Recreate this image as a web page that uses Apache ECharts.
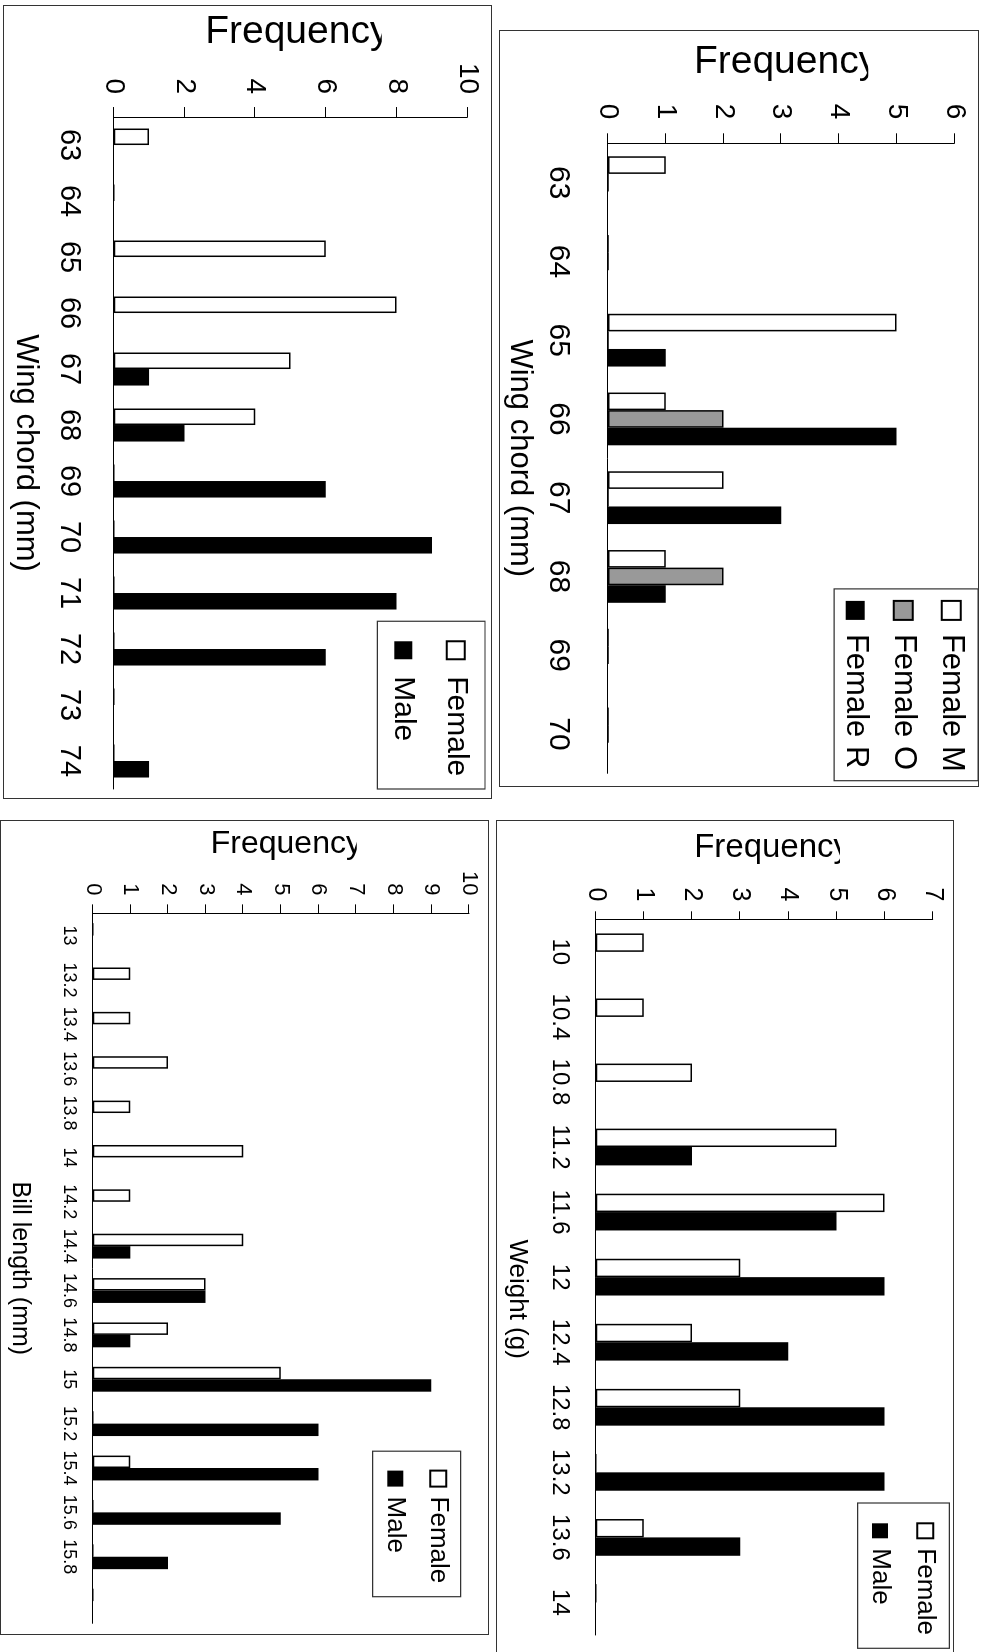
<!DOCTYPE html>
<html><head><meta charset="utf-8">
<script src="https://cdn.jsdelivr.net/npm/echarts@6/dist/echarts.min.js"></script>
<style>
html,body{margin:0;padding:0;background:#fff;width:983px;height:1652px;overflow:hidden;position:relative;}
.panel{position:absolute;overflow:hidden;}
.frame{position:absolute;box-sizing:border-box;border:1.6px solid #333;pointer-events:none;}
.chart{position:absolute;left:0;top:0;transform-origin:0 0;}
</style></head><body>
<script>
// ---------- data ----------
const wingCats   = ['63','64','65','66','67','68','69','70','71','72','73','74'];
const wingFemale = [1,0,6,8,5,4,0,0,0,0,0,0];
const wingMale   = [0,0,0,0,1,2,6,9,8,6,0,1];

const morphCats  = ['63','64','65','66','67','68','69','70'];
const femaleM    = [1,0,5,1,2,1,0,0];
const femaleO    = [0,0,0,2,0,2,0,0];
const femaleR    = [0,0,1,5,3,1,0,0];

const weightCats   = ['10','10.4','10.8','11.2','11.6','12','12.4','12.8','13.2','13.6','14'];
const weightFemale = [1,1,2,5,6,3,2,3,0,1,0];
const weightMale   = [0,0,0,2,5,6,4,6,6,3,0];

const billCats   = ['13','13.2','13.4','13.6','13.8','14','14.2','14.4','14.6','14.8','15','15.2','15.4','15.6','15.8',''];
const billFemale = [0,1,1,2,1,4,1,4,3,2,5,0,1,0,0,0];
const billMale   = [0,0,0,0,0,0,0,1,3,1,9,6,6,5,2,0];

const wingAxis   = {max:10, step:2};
const morphAxis  = {max:6,  step:1};
const weightAxis = {max:7,  step:1};
const billAxis   = {max:10, step:1};

const FONT = "'Liberation Sans', Arial, sans-serif";

function panel(box, build){
  const p = document.createElement('div'); p.className='panel';
  Object.assign(p.style,{left:box.x+'px',top:box.y+'px',width:box.w+'px',height:box.h+'px'});
  document.body.appendChild(p);
  const c = document.createElement('div'); c.className='chart';
  Object.assign(c.style,{width:box.h+'px',height:box.w+'px',transform:'translateX('+box.w+'px) rotate(90deg)'});
  p.appendChild(c);
  const f = document.createElement('div'); f.className='frame';
  Object.assign(f.style,{left:box.x+'px',top:box.y+'px',width:box.w+'px',height:box.h+'px'});
  document.body.appendChild(f);
  const chart = echarts.init(c, null, {renderer:'canvas', width:box.h, height:box.w});
  chart.setOption(build());
}

function buildOption(o){
  const axisCol = '#000';
  return {
    animation:false,
    textStyle:{fontFamily:FONT},
    grid:o.grid,
    legend:{
      orient:'vertical', right:o.lg.right, top:o.lg.top, padding:o.lg.pad,
      itemWidth:o.lg.iw, itemHeight:o.lg.ih, itemGap:o.lg.gap, icon:'rect',
      borderColor:'#333', borderWidth:1.2, backgroundColor:'#fff',
      textStyle:{fontSize:o.lg.fs, color:'#000', fontFamily:FONT, padding:[0,0,0,o.lg.tp]},
      data:o.series.map(s=>s.name)
    },
    xAxis:{
      type:'category', data:o.cats, boundaryGap:true,
      axisLine:{lineStyle:{color:axisCol,width:1}},
      axisTick:{length:o.ctl, lineStyle:{color:axisCol,width:1}},
      axisLabel:{interval:0, fontSize:o.cfs, color:'#000', margin:o.cm, fontFamily:FONT},
      name:o.xname, nameLocation:'middle', nameGap:o.xng,
      nameTextStyle:{fontSize:o.xnfs, color:'#000', fontFamily:FONT, padding:o.xnpad||0}
    },
    yAxis:{
      type:'value', min:0, max:o.axis.max, interval:o.axis.step,
      axisLine:{show:true, lineStyle:{color:axisCol,width:1}},
      axisTick:{show:true, length:o.vtl, lineStyle:{color:axisCol,width:1}},
      splitLine:{show:false},
      axisLabel:{fontSize:o.vfs, margin:o.vm, color:'#000', fontFamily:FONT},
      name:'Frequency', nameLocation:'middle', nameRotate:90, nameGap:o.yng,
      nameTextStyle:{fontSize:o.ynfs, color:'#000', fontFamily:FONT, padding:[0,0,0,o.ynshift]}
    },
    graphic:[{type:'rect', z:100, shape:{x:0,y:0,width:o.mask.w,height:o.mask.h}, style:{fill:'#fff'}}],
    series:o.series.map((s,i)=>({
      type:'bar', name:s.name, data:s.data, barGap:'0%', barCategoryGap:o.bcg,
      itemStyle:{color:s.color, borderColor:'#000', borderWidth:s.color==='#000'?0:1.5}
    }))
  };
}

// Top-left: wing chord, Female / Male
panel({x:3,y:5,w:489,h:794}, ()=>buildOption({
  cats:wingCats, axis:wingAxis,
  grid:{left:111,right:10,top:24.7,bottom:110.7},
  lg:{right:10,top:7,pad:[14.2,12.7,11,19],iw:18,ih:18,gap:22.5,fs:30,tp:12},
  ctl:10, vtl:10, cfs:29, cm:30, vfs:28, vm:23,
  xname:'Wing chord (mm)', xng:73, xnfs:31,
  yng:58, ynfs:39, ynshift:13.6, mask:{w:55,h:110.3}, bcg:'41%',
  series:[{name:'Female',data:wingFemale,color:'#fff'},{name:'Male',data:wingMale,color:'#000'}]
}));

// Top-right: wing chord, Female M / O / R
panel({x:499,y:30,w:480,h:757}, ()=>buildOption({
  cats:morphCats, axis:morphAxis,
  grid:{left:113.3,right:13.7,top:24.7,bottom:108.3},
  lg:{right:6.3,top:1,pad:[11.3,9,5.5,11],iw:19,ih:19,gap:17,fs:31,tp:9},
  ctl:10, vtl:10, cfs:30, cm:35, vfs:28, vm:24,
  xname:'Wing chord (mm)', xng:73, xnfs:31,
  yng:62, ynfs:39, ynshift:9.8, mask:{w:52,h:110.7}, bcg:'33%',
  series:[{name:'Female M',data:femaleM,color:'#fff'},{name:'Female O',data:femaleO,color:'#999999'},{name:'Female R',data:femaleR,color:'#000'}]
}));

// Bottom-right: weight
panel({x:496,y:820,w:458,h:840}, ()=>buildOption({
  cats:weightCats, axis:weightAxis,
  grid:{left:99.3,right:25,top:21.3,bottom:99.7},
  lg:{right:11.7,top:4.7,pad:[11,13.3,9.3,19.3],iw:15,ih:16,gap:19.3,fs:26,tp:5},
  ctl:9, vtl:8, cfs:24, cm:24, vfs:25, vm:18,
  xname:'Weight (g)', xng:66, xnfs:26, xnpad:[0,0,0,44],
  yng:55, ynfs:33, ynshift:15.8, mask:{w:45,h:114}, bcg:'43.5%',
  series:[{name:'Female',data:weightFemale,color:'#fff'},{name:'Male',data:weightMale,color:'#000'}]
}));

// Bottom-left: bill length
panel({x:0,y:820,w:489,h:815}, ()=>buildOption({
  cats:billCats, axis:billAxis,
  grid:{left:86,right:11.7,top:20,bottom:92.7},
  lg:{right:38.3,top:28.3,pad:[9.4,13.4,9.6,18.4],iw:16,ih:16,gap:17,fs:26,tp:5},
  ctl:6, vtl:9, cfs:18, cm:15, vfs:22, vm:18,
  xname:'Bill length (mm)', xng:60, xnfs:25,
  yng:42, ynfs:32, ynshift:11, mask:{w:42,h:132.3}, bcg:'44%',
  series:[{name:'Female',data:billFemale,color:'#fff'},{name:'Male',data:billMale,color:'#000'}]
}));
</script>
</body></html>
